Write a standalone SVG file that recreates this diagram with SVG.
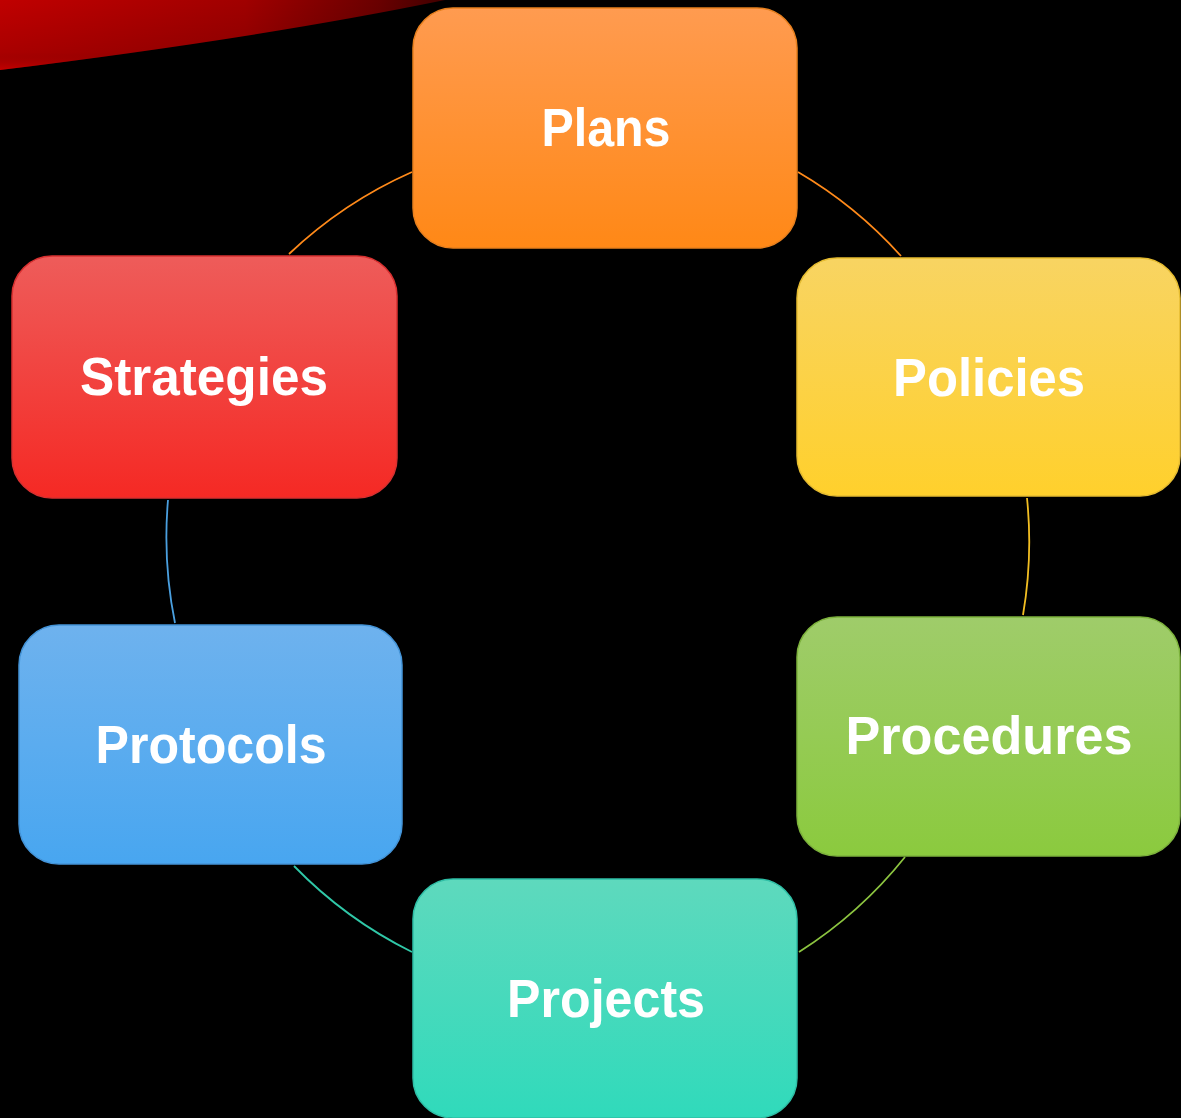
<svg xmlns="http://www.w3.org/2000/svg" width="1181" height="1118" viewBox="0 0 1181 1118">
<defs>
<linearGradient id="swoosh" x1="0" y1="0" x2="1" y2="0">
<stop offset="0" stop-color="#c00000"/>
<stop offset="0.55" stop-color="#a00000"/>
<stop offset="0.85" stop-color="#6a0000"/>
<stop offset="1" stop-color="#400000"/>
</linearGradient>
<linearGradient id="swooshEdge" x1="0" y1="0" x2="0" y2="1">
<stop offset="0" stop-color="#000" stop-opacity="0"/>
<stop offset="0.75" stop-color="#000" stop-opacity="0.12"/>
<stop offset="1" stop-color="#d00000" stop-opacity="0.4"/>
</linearGradient>
<linearGradient id="gOrange" x1="0" y1="0" x2="0" y2="1"><stop offset="0" stop-color="#FF9B50"/><stop offset="1" stop-color="#FF8816"/></linearGradient>
<linearGradient id="gYellow" x1="0" y1="0" x2="0" y2="1"><stop offset="0" stop-color="#F8D462"/><stop offset="1" stop-color="#FFD02C"/></linearGradient>
<linearGradient id="gGreen" x1="0" y1="0" x2="0" y2="1"><stop offset="0" stop-color="#9FCC6A"/><stop offset="1" stop-color="#8BCA3E"/></linearGradient>
<linearGradient id="gTeal" x1="0" y1="0" x2="0" y2="1"><stop offset="0" stop-color="#5ED9BD"/><stop offset="1" stop-color="#30DABB"/></linearGradient>
<linearGradient id="gBlue" x1="0" y1="0" x2="0" y2="1"><stop offset="0" stop-color="#6EB2EE"/><stop offset="1" stop-color="#48A6F0"/></linearGradient>
<linearGradient id="gRed" x1="0" y1="0" x2="0" y2="1"><stop offset="0" stop-color="#EE5C5A"/><stop offset="1" stop-color="#F52924"/></linearGradient>
</defs>
<style>
.bg{fill:#000}
.box{stroke-width:1.5}
.lbl{font-family:"Liberation Sans",Arial,sans-serif;font-weight:bold;font-size:54px;fill:#fff;text-anchor:middle}
.conn{fill:none;stroke-width:1.8}
</style>
<rect class="bg" x="0" y="0" width="1181" height="1118"/>
<path d="M0,0 L445,0 Q260,38 0,70 Z" fill="url(#swoosh)"/>
<path d="M0,0 L445,0 Q260,38 0,70 Z" fill="url(#swooshEdge)"/>
<g id="connectors">
<path class="conn" stroke="#FF8A1A" d="M798,172 A432,432 0 0 1 901,256"/>
<path class="conn" stroke="#F2BE22" d="M1027,498 A432,432 0 0 1 1023,615"/>
<path class="conn" stroke="#8CC440" d="M905,857 A432,432 0 0 1 799,952"/>
<path class="conn" stroke="#30C8A8" d="M412,952 A432,432 0 0 1 294,866"/>
<path class="conn" stroke="#4AA0E0" d="M175,623 A432,432 0 0 1 168,500"/>
<path class="conn" stroke="#FF8A1A" d="M289,254 A432,432 0 0 1 412,172"/>
</g>
<g id="plans">
<rect class="box" x="413" y="8" width="384" height="240" rx="40" fill="url(#gOrange)" stroke="#E8801E"/>
<text class="lbl" x="606" y="146" textLength="129" lengthAdjust="spacingAndGlyphs">Plans</text>
</g>
<g id="policies">
<rect class="box" x="797" y="258" width="383" height="238" rx="40" fill="url(#gYellow)" stroke="#E6BC30"/>
<text class="lbl" x="989" y="396" textLength="192" lengthAdjust="spacingAndGlyphs">Policies</text>
</g>
<g id="procedures">
<rect class="box" x="797" y="617" width="383" height="239" rx="40" fill="url(#gGreen)" stroke="#7DB23C"/>
<text class="lbl" x="989" y="754" textLength="287" lengthAdjust="spacingAndGlyphs">Procedures</text>
</g>
<g id="projects">
<rect class="box" x="413" y="879" width="384" height="239" rx="40" fill="url(#gTeal)" stroke="#2EBFA6"/>
<text class="lbl" x="606" y="1017" textLength="198" lengthAdjust="spacingAndGlyphs">Projects</text>
</g>
<g id="protocols">
<rect class="box" x="19" y="625" width="383" height="239" rx="40" fill="url(#gBlue)" stroke="#4494D8"/>
<text class="lbl" x="211" y="763" textLength="231" lengthAdjust="spacingAndGlyphs">Protocols</text>
</g>
<g id="strategies">
<rect class="box" x="12" y="256" width="385" height="242" rx="40" fill="url(#gRed)" stroke="#D83030"/>
<text class="lbl" x="204" y="395" textLength="248" lengthAdjust="spacingAndGlyphs">Strategies</text>
</g>
</svg>
